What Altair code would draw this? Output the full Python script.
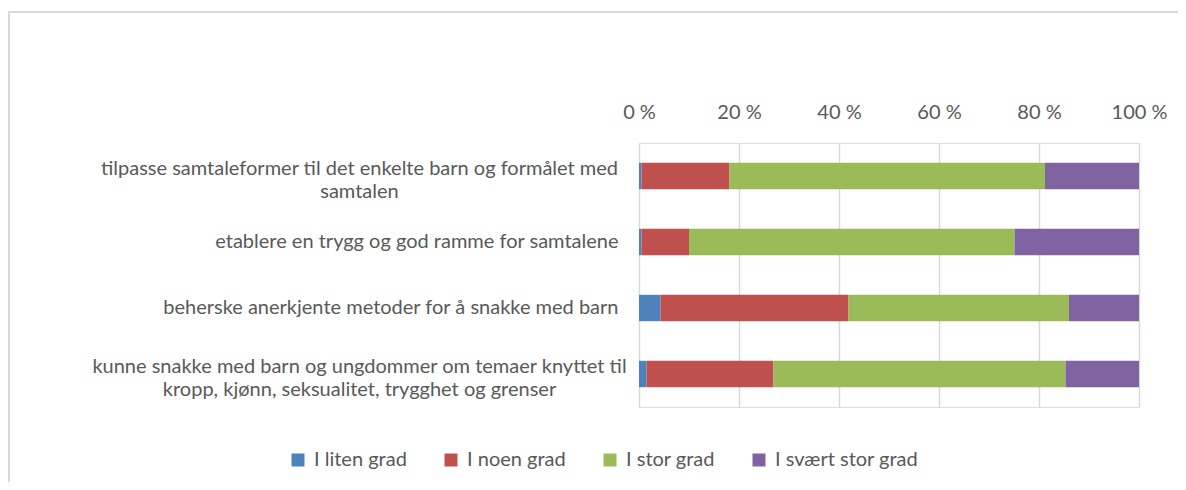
import altair as alt
import pandas as pd

categories = [
    "tilpasse samtaleformer til det enkelte barn og formålet med\nsamtalen",
    "etablere en trygg og god ramme for samtalene",
    "beherske anerkjente metoder for å snakke med barn",
    "kunne snakke med barn og ungdommer om temaer knyttet til\nkropp, kjønn, seksualitet, trygghet og grenser",
]
series = ["I liten grad", "I noen grad", "I stor grad", "I svært stor grad"]
liten = [0.5, 0.5, 4.3, 1.5]
noen = [17.6, 9.5, 37.6, 25.4]
stor = [63.1, 65.1, 44.1, 58.4]
svaert = [18.8, 24.9, 14.0, 14.7]
colors = ["#4F81BD", "#C0504D", "#9BBB59", "#8064A2"]
ticks = [0, 20, 40, 60, 80, 100]

rows = []
for vals, s_idx in zip([liten, noen, stor, svaert], range(4)):
    for c, v in zip(categories, vals):
        rows.append({"kategori": c, "serie": series[s_idx], "rekkefolge": s_idx, "verdi": v})
df = pd.DataFrame(rows)

FONT = "Lato"
TXT = "#595959"
multi = "indexof(datum.value, '\\n') >= 0"

bars = alt.Chart(df).mark_bar().encode(
    y=alt.Y("kategori:N", sort=categories, title=None,
            scale=alt.Scale(paddingInner=0.6, paddingOuter=0.3),
            axis=alt.Axis(labelExpr="split(datum.label, '\\n')",
                          labelAlign={"condition": {"test": multi, "value": "center"}, "value": "right"},
                          labelPadding={"condition": {"test": multi, "value": 280}, "value": 21},
                          labelOffset={"condition": {"test": multi, "value": -7}, "value": 0},
                          ticks=False, domain=False, labelLimit=0,
                          labelFontSize=20, labelLineHeight=23, labelColor=TXT, labelFont=FONT,
                          grid=False)),
    x=alt.X("verdi:Q", stack="zero", title=None,
            scale=alt.Scale(domain=[0, 100], nice=False),
            axis=alt.Axis(orient="top", values=ticks, labelExpr="datum.value + ' %'",
                          labelPadding=21, labelFlush=False, labelBound=False,
                          ticks=False, domain=False, grid=True,
                          gridColor="#d9d9d9", gridWidth=1.5, labelFontSize=20,
                          labelColor=TXT, labelFont=FONT)),
    color=alt.Color("serie:N", sort=series, title=None,
                    scale=alt.Scale(domain=series, range=colors),
                    legend=alt.Legend(orient="none", legendX=-351, legendY=307,
                                      direction="horizontal", columns=4,
                                      symbolType="square", symbolSize=169, symbolStrokeWidth=0,
                                      labelFontSize=20, labelFont=FONT, labelColor=TXT,
                                      labelOffset=6, columnPadding=34, padding=0)),
    order=alt.Order("rekkefolge:Q"),
)

frame_top = alt.Chart(df).mark_rule(color="#d9d9d9", strokeWidth=2).encode(
    x=alt.value(-631), x2=alt.value(547), y=alt.value(-131)
)
frame_left = alt.Chart(df).mark_rule(color="#d9d9d9", strokeWidth=2).encode(
    x=alt.value(-630), y=alt.value(-131), y2=alt.value(339)
)

chart = alt.layer(frame_top, frame_left, bars).properties(
    width=500, height=264,
    autosize=alt.AutoSizeParams(type="none"),
    padding={"left": 631, "top": 135, "right": 39, "bottom": 75},
).configure_view(stroke=None).configure(background="white")

chart.save("out.html", embed_options={"renderer": "svg", "actions": False})
